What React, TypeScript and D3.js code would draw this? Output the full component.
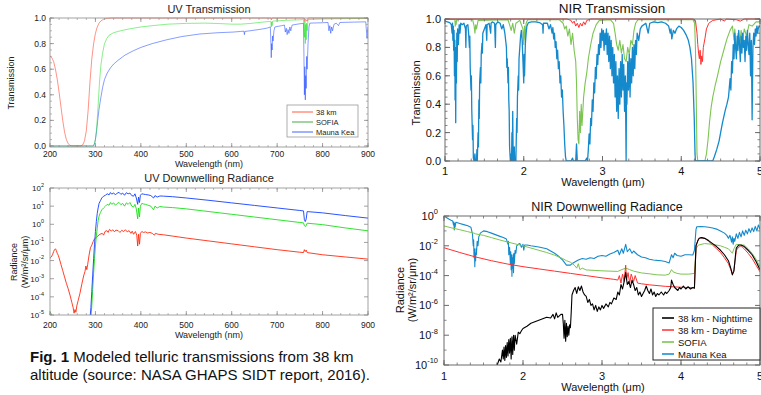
import React from 'react'
import * as d3 from 'd3'

type Pt = [number, number]

const FONT = 'Liberation Sans, Arial, Helvetica, sans-serif'

// ---------- UV transmission (wavelength nm, transmission) ----------
const uvTrans38km: Pt[] = [
  [200,0.70],[204,0.69],[208,0.66],[212,0.6],[216,0.52],[220,0.42],[224,0.31],[228,0.2],[232,0.11],[236,0.05],
  [240,0.018],[244,0.005],[248,0.001],[268,0.001],[272,0.008],[276,0.04],[280,0.12],[284,0.28],[288,0.5],[292,0.68],
  [296,0.8],[300,0.88],[304,0.93],[308,0.96],[312,0.977],[318,0.99],[326,0.997],[336,1.0],[686,1.0],[687,0.985],
  [689,1.0],[759,1.0],[761,0.97],[763,0.99],[766,0.975],[768,1.0],[900,1.0]
]
const uvTransSofia: Pt[] = [
  [200,0],[294,0],[297,0.01],[300,0.05],[303,0.15],[306,0.32],[309,0.5],[312,0.63],[316,0.73],[320,0.8],[325,0.84],
  [330,0.865],[340,0.885],[355,0.9],[375,0.915],[400,0.93],[430,0.942],[460,0.952],[500,0.958],[540,0.96],[570,0.957],
  [600,0.952],[620,0.952],[640,0.957],[660,0.965],[680,0.972],[686,0.974],[687,0.93],[688,0.97],[689,0.94],[690,0.975],
  [695,0.977],[720,0.982],[750,0.986],[758,0.987],[760,0.85],[761,0.97],[762,0.8],[763,0.95],[764,0.83],[765,0.96],
  [766,0.9],[768,0.988],[800,0.992],[850,0.995],[900,0.997]
]
const uvTransMaunaKea: Pt[] = [
  [200,0],[296,0],[299,0.03],[302,0.1],[305,0.2],[308,0.29],[312,0.38],[316,0.46],[320,0.52],[326,0.57],[333,0.61],
  [340,0.64],[350,0.67],[365,0.71],[384,0.745],[400,0.77],[425,0.8],[457,0.83],[490,0.855],[530,0.875],[570,0.885],
  [603,0.89],[620,0.895],[627,0.897],[628,0.87],[629,0.895],[640,0.9],[660,0.91],[677,0.92],[685,0.93],[686,0.83],
  [687,0.69],[688,0.8],[689,0.75],[690,0.86],[691,0.82],[693,0.9],[695,0.93],[710,0.94],[716,0.945],[718,0.89],
  [720,0.92],[722,0.87],[724,0.91],[726,0.88],[728,0.93],[730,0.9],[733,0.945],[750,0.955],[758,0.958],[759,0.7],
  [760,0.4],[761,0.62],[762,0.36],[763,0.55],[764,0.45],[765,0.7],[766,0.6],[768,0.8],[770,0.93],[772,0.96],
  [800,0.963],[812,0.965],[814,0.9],[816,0.94],[818,0.88],[820,0.93],[822,0.9],[825,0.95],[830,0.96],[835,0.94],
  [838,0.965],[870,0.968],[895,0.97],[897,0.88],[898,0.84],[899,0.9],[900,0.93]
]

// ---------- UV downwelling radiance (wavelength nm, log10 W/m2/sr/um) ----------
const uvRad38km: Pt[] = [
  [200,-1.87],[203,-1.8],[206,-1.65],[208,-1.5],[210,-1.4],[212,-1.35],[214,-1.45],[216,-1.6],[218,-1.7],[220,-1.85],
  [224,-2.2],[228,-2.55],[232,-2.9],[236,-3.25],[240,-3.55],[244,-3.9],[248,-4.3],[251,-4.6],[253,-4.9],[255,-4.7],
  [257,-4.85],[259,-4.5],[262,-4.2],[266,-3.8],[270,-3.3],[274,-2.85],[277,-2.6],[279,-2.3],[281,-2.5],[283,-2.2],
  [286,-1.7],[289,-1.3],[292,-1.15],[295,-0.95],[298,-0.8],[301,-0.75],[305,-0.65],[310,-0.55],[315,-0.5],[318,-0.6],
  [321,-0.4],[325,-0.35],[328,-0.45],[331,-0.28],[335,-0.38],[338,-0.3],[342,-0.42],[345,-0.32],[350,-0.35],[354,-0.45],
  [358,-0.33],[362,-0.4],[366,-0.3],[370,-0.42],[374,-0.35],[378,-0.5],[381,-0.38],[384,-0.55],[388,-0.4],[391,-0.6],
  [393,-1.2],[395,-0.55],[397,-1.1],[399,-0.5],[402,-0.4],[406,-0.45],[410,-0.42],[415,-0.48],[420,-0.45],[425,-0.5],
  [430,-0.6],[432,-0.5],[438,-0.55],[450,-0.58],[470,-0.65],[500,-0.76],[550,-0.92],[600,-1.08],[650,-1.24],[700,-1.4],
  [750,-1.54],[758,-1.56],[760,-1.4],[762,-1.5],[764,-1.42],[766,-1.56],[800,-1.68],[850,-1.8],[900,-1.92]
]
const uvRadSofia: Pt[] = [
  [200,-4.82],[203,-4.95],[206,-5.2],[290,-5.2],[292,-4.5],[294,-3.6],[296,-2.7],[298,-1.9],[300,-1.2],[302,-0.65],
  [304,-0.2],[306,0.2],[308,0.45],[311,0.65],[314,0.8],[318,0.9],[322,1.0],[326,1.1],[330,1.05],[333,1.2],[336,1.1],
  [340,1.18],[344,1.05],[348,1.15],[352,1.2],[356,1.08],[360,1.15],[364,1.0],[368,1.18],[372,1.1],[376,1.2],[380,1.0],
  [384,0.95],[387,1.1],[390,0.85],[393,0.3],[395,0.9],[397,0.4],[399,1.0],[402,1.15],[406,1.12],[410,1.1],[416,1.05],
  [422,1.0],[428,0.8],[431,1.0],[436,0.9],[442,0.98],[450,0.95],[470,0.92],[500,0.85],[550,0.7],[600,0.55],[650,0.4],
  [700,0.25],[750,0.1],[758,0.08],[760,-0.08],[763,-0.12],[766,0.06],[800,-0.02],[850,-0.2],[900,-0.36]
]
const uvRadMaunaKea: Pt[] = [
  [288,-5.2],[290,-4.6],[292,-3.7],[294,-2.8],[296,-1.9],[298,-1.1],[300,-0.4],[302,0.15],[304,0.6],[306,0.9],
  [308,1.15],[311,1.3],[314,1.45],[318,1.55],[322,1.6],[326,1.68],[330,1.62],[333,1.75],[336,1.66],[340,1.73],
  [344,1.62],[348,1.72],[352,1.76],[356,1.65],[360,1.72],[364,1.6],[368,1.74],[372,1.68],[376,1.72],[380,1.58],
  [384,1.55],[387,1.68],[390,1.45],[393,1.1],[395,1.5],[397,1.2],[399,1.6],[402,1.68],[406,1.66],[410,1.64],
  [416,1.62],[422,1.58],[428,1.45],[431,1.58],[436,1.5],[442,1.56],[450,1.55],[470,1.52],[500,1.45],[550,1.32],
  [600,1.18],[650,1.04],[700,0.9],[750,0.76],[758,0.74],[760,0.25],[762,0.15],[764,0.3],[766,0.7],[800,0.63],
  [850,0.48],[900,0.34]
]

// ---------- NIR transmission (wavelength um, transmission) ----------
const nirTrans38km: Pt[] = [
  [1.0,1.0],[2.55,1.0],[2.6,0.99],[2.62,0.97],[2.64,0.985],[2.66,0.95],[2.68,0.97],[2.7,0.94],[2.72,0.97],[2.74,0.95],
  [2.76,0.98],[2.78,0.96],[2.8,0.99],[2.85,1.0],[4.15,1.0],[4.18,0.99],[4.2,0.9],[4.21,0.82],[4.22,0.76],[4.23,0.72],
  [4.24,0.78],[4.25,0.68],[4.26,0.74],[4.27,0.7],[4.28,0.8],[4.3,0.86],[4.32,0.93],[4.35,0.97],[4.4,0.99],[4.5,1.0],
  [4.55,0.985],[4.57,1.0],[4.7,0.995],[4.75,0.985],[4.8,1.0],[5.0,1.0]
]
const nirTransSofia: Pt[] = [
  [1.0,0.998],[1.125,0.997],[1.13,0.95],[1.135,0.985],[1.14,0.96],[1.15,0.997],[1.35,0.997],[1.37,0.95],[1.38,0.9],
  [1.39,0.96],[1.4,0.93],[1.42,0.99],[1.8,0.995],[1.82,0.96],[1.84,0.92],[1.86,0.97],[1.88,0.9],[1.9,0.97],[1.95,0.99],
  [1.99,0.93],[2.0,0.82],[2.01,0.95],[2.02,0.85],[2.03,0.97],[2.05,0.995],[2.45,0.995],[2.5,0.97],[2.52,0.93],[2.54,0.95],
  [2.56,0.88],[2.58,0.93],[2.6,0.82],[2.62,0.9],[2.64,0.78],[2.66,0.7],[2.67,0.55],[2.68,0.3],[2.69,0.15],[2.7,0.12],
  [2.71,0.35],[2.72,0.2],[2.73,0.4],[2.74,0.25],[2.76,0.45],[2.78,0.55],[2.8,0.62],[2.82,0.72],[2.85,0.82],[2.88,0.9],
  [2.92,0.96],[2.96,0.99],[3.1,0.995],[3.14,0.97],[3.16,0.9],[3.18,0.82],[3.2,0.78],[3.22,0.85],[3.24,0.76],[3.26,0.82],
  [3.28,0.72],[3.3,0.7],[3.32,0.8],[3.34,0.75],[3.36,0.85],[3.38,0.82],[3.4,0.92],[3.42,0.97],[3.45,0.995],[4.15,0.995],
  [4.17,0.97],[4.18,0.8],[4.19,0.45],[4.2,0.05],[4.21,0.0],[4.3,0.0],[4.32,0.05],[4.34,0.15],[4.36,0.28],[4.38,0.38],
  [4.4,0.45],[4.43,0.53],[4.46,0.6],[4.5,0.7],[4.54,0.78],[4.58,0.86],[4.62,0.92],[4.65,0.95],[4.67,0.85],[4.68,0.93],
  [4.7,0.76],[4.72,0.9],[4.74,0.8],[4.76,0.92],[4.78,0.85],[4.8,0.93],[4.83,0.88],[4.86,0.96],[4.9,0.95],[4.95,0.98],
  [5.0,0.98]
]
const nirTransMaunaKea: Pt[] = [
  [1.0,0.985],[1.03,0.98],[1.06,0.975],[1.08,0.96],[1.09,0.9],[1.095,0.97],[1.1,0.85],[1.105,0.95],[1.11,0.78],
  [1.115,0.92],[1.12,0.6],[1.125,0.85],[1.128,0.43],[1.132,0.8],[1.136,0.27],[1.14,0.75],[1.145,0.55],[1.15,0.9],
  [1.155,0.7],[1.16,0.93],[1.17,0.82],[1.18,0.96],[1.19,0.9],[1.2,0.97],[1.22,0.96],[1.24,0.97],[1.26,0.93],[1.265,0.8],
  [1.27,0.95],[1.29,0.96],[1.3,0.9],[1.31,0.8],[1.315,0.88],[1.32,0.66],[1.33,0.5],[1.335,0.6],[1.34,0.36],[1.35,0.15],
  [1.355,0.25],[1.36,0.02],[1.37,0.0],[1.38,0.05],[1.385,0.0],[1.4,0.0],[1.405,0.08],[1.41,0.0],[1.42,0.2],[1.425,0.1],
  [1.43,0.43],[1.435,0.3],[1.44,0.55],[1.45,0.66],[1.455,0.55],[1.46,0.75],[1.47,0.83],[1.475,0.76],[1.48,0.9],
  [1.5,0.93],[1.52,0.96],[1.53,0.85],[1.535,0.96],[1.56,0.97],[1.58,0.9],[1.585,0.97],[1.6,0.98],[1.63,0.97],[1.64,0.8],
  [1.645,0.96],[1.67,0.98],[1.7,0.97],[1.72,0.93],[1.74,0.96],[1.76,0.9],[1.77,0.85],[1.78,0.8],[1.785,0.66],[1.79,0.72],
  [1.8,0.55],[1.805,0.66],[1.81,0.43],[1.815,0.35],[1.82,0.1],[1.83,0.0],[1.84,0.05],[1.845,0.0],[1.85,0.2],[1.855,0.0],
  [1.86,0.35],[1.865,0.05],[1.87,0.0],[1.88,0.1],[1.885,0.0],[1.89,0.02],[1.9,0.0],[1.905,0.15],[1.91,0.3],[1.915,0.2],
  [1.92,0.45],[1.93,0.6],[1.935,0.5],[1.94,0.72],[1.95,0.8],[1.96,0.88],[1.97,0.92],[1.98,0.85],[1.99,0.7],[2.0,0.55],
  [2.005,0.75],[2.01,0.6],[2.02,0.82],[2.03,0.9],[2.04,0.95],[2.06,0.975],[2.1,0.98],[2.15,0.98],[2.2,0.975],[2.24,0.96],
  [2.245,0.9],[2.25,0.97],[2.3,0.97],[2.32,0.93],[2.34,0.96],[2.36,0.9],[2.37,0.94],[2.38,0.86],[2.39,0.9],[2.4,0.8],
  [2.41,0.84],[2.42,0.72],[2.43,0.78],[2.44,0.65],[2.45,0.7],[2.46,0.55],[2.47,0.6],[2.48,0.45],[2.49,0.5],[2.5,0.35],
  [2.51,0.25],[2.52,0.12],[2.53,0.03],[2.54,0.0],[2.6,0.0],[2.62,0.02],[2.63,0.0],[2.66,0.0],[2.67,0.12],[2.68,0.0],
  [2.78,0.0],[2.8,0.02],[2.81,0.0],[2.82,0.08],[2.83,0.19],[2.84,0.12],[2.85,0.3],[2.86,0.25],[2.87,0.43],[2.88,0.35],
  [2.89,0.55],[2.9,0.48],[2.91,0.66],[2.92,0.58],[2.93,0.75],[2.94,0.68],[2.95,0.82],[2.96,0.75],[2.97,0.9],[2.98,0.8],
  [2.99,0.93],[3.0,0.85],[3.01,0.92],[3.02,0.78],[3.03,0.9],[3.04,0.82],[3.05,0.93],[3.06,0.75],[3.07,0.9],[3.08,0.7],
  [3.09,0.88],[3.1,0.65],[3.11,0.85],[3.12,0.6],[3.13,0.8],[3.14,0.55],[3.15,0.75],[3.16,0.45],[3.17,0.7],[3.18,0.35],
  [3.19,0.6],[3.2,0.3],[3.21,0.65],[3.22,0.4],[3.23,0.7],[3.24,0.45],[3.25,0.75],[3.26,0.5],[3.27,0.68],[3.28,0.35],
  [3.29,0.6],[3.3,0.0],[3.305,0.55],[3.31,0.4],[3.32,0.7],[3.33,0.5],[3.34,0.75],[3.35,0.45],[3.36,0.72],[3.37,0.55],
  [3.38,0.8],[3.39,0.6],[3.4,0.82],[3.41,0.65],[3.42,0.85],[3.43,0.75],[3.44,0.9],[3.46,0.85],[3.48,0.93],[3.5,0.95],
  [3.55,0.97],[3.58,0.9],[3.6,0.97],[3.65,0.98],[3.7,0.975],[3.75,0.98],[3.8,0.97],[3.84,0.95],[3.86,0.9],[3.87,0.93],
  [3.88,0.86],[3.9,0.92],[3.92,0.9],[3.94,0.93],[3.97,0.95],[4.0,0.94],[4.03,0.92],[4.06,0.89],[4.09,0.85],[4.11,0.8],
  [4.13,0.72],[4.15,0.55],[4.165,0.3],[4.175,0.05],[4.18,0.0],[4.4,0.0],[4.42,0.03],[4.45,0.08],[4.48,0.14],[4.5,0.2],
  [4.52,0.26],[4.54,0.31],[4.56,0.36],[4.58,0.4],[4.6,0.45],[4.62,0.58],[4.63,0.5],[4.64,0.7],[4.65,0.62],[4.66,0.82],
  [4.67,0.72],[4.68,0.9],[4.69,0.8],[4.7,0.72],[4.71,0.88],[4.72,0.78],[4.73,0.92],[4.74,0.82],[4.75,0.7],[4.76,0.88],
  [4.77,0.76],[4.78,0.9],[4.79,0.8],[4.8,0.85],[4.81,0.7],[4.82,0.88],[4.83,0.78],[4.84,0.92],[4.85,0.82],[4.86,0.75],
  [4.87,0.9],[4.88,0.6],[4.89,0.85],[4.9,0.29],[4.91,0.8],[4.92,0.9],[4.93,0.82],[4.94,0.93],[4.95,0.88],[4.96,0.95],
  [4.97,0.9],[4.98,0.94],[5.0,0.95]
]

// ---------- NIR downwelling radiance (wavelength um, log10 W/m2/sr/um) ----------
const nirRadNight: Pt[] = [
  [1.66,-10.2],[1.7,-9.6],[1.72,-9.8],[1.74,-9.0],[1.75,-9.6],[1.76,-8.8],[1.77,-9.7],[1.78,-8.7],[1.79,-9.5],[1.8,-8.5],
  [1.81,-9.4],[1.82,-8.3],[1.83,-9.2],[1.84,-8.2],[1.85,-9.6],[1.86,-8.1],[1.87,-9.3],[1.88,-8.0],[1.89,-9.0],[1.9,-8.0],
  [1.92,-8.6],[1.94,-7.8],[1.96,-7.9],[1.98,-7.7],[2.0,-7.55],[2.05,-7.4],[2.1,-7.2],[2.15,-7.1],[2.2,-7.0],[2.25,-6.9],
  [2.3,-6.8],[2.35,-6.85],[2.38,-6.6],[2.4,-6.9],[2.42,-6.5],[2.44,-6.8],[2.46,-6.7],[2.48,-6.6],[2.5,-6.6],[2.51,-7.2],
  [2.52,-8.2],[2.53,-7.0],[2.54,-8.4],[2.55,-7.2],[2.56,-8.1],[2.57,-7.4],[2.58,-8.0],[2.59,-7.3],[2.6,-7.5],[2.61,-6.5],
  [2.62,-5.3],[2.64,-5.0],[2.66,-4.8],[2.68,-5.2],[2.7,-4.75],[2.72,-5.0],[2.74,-4.7],[2.76,-5.1],[2.78,-5.3],[2.8,-5.4],
  [2.82,-5.8],[2.84,-5.6],[2.86,-6.0],[2.88,-5.9],[2.9,-6.3],[2.92,-6.0],[2.94,-6.4],[2.96,-6.1],[2.98,-6.3],[3.0,-6.0],
  [3.02,-6.2],[3.05,-5.9],[3.08,-6.1],[3.1,-5.8],[3.12,-5.9],[3.15,-5.5],[3.18,-5.6],[3.2,-5.1],[3.22,-5.3],[3.24,-4.6],
  [3.26,-4.9],[3.28,-4.4],[3.3,-3.8],[3.32,-4.6],[3.34,-4.4],[3.36,-4.8],[3.38,-4.3],[3.4,-4.6],[3.42,-5.0],[3.44,-4.8],
  [3.46,-5.3],[3.48,-5.1],[3.5,-5.4],[3.52,-5.2],[3.54,-5.0],[3.56,-4.7],[3.58,-5.0],[3.6,-5.2],[3.62,-4.9],[3.64,-5.3],
  [3.66,-5.1],[3.68,-5.4],[3.7,-5.2],[3.72,-5.3],[3.75,-5.1],[3.78,-5.3],[3.8,-5.1],[3.82,-5.2],[3.85,-5.0],[3.87,-4.8],
  [3.88,-4.3],[3.9,-4.6],[3.92,-4.8],[3.94,-4.9],[3.96,-5.0],[3.98,-4.8],[4.0,-4.9],[4.03,-4.7],[4.06,-4.9],[4.09,-4.75],
  [4.12,-4.9],[4.15,-4.8],[4.17,-4.85],[4.19,-2.0],[4.21,-1.7],[4.23,-1.5],[4.26,-1.45],[4.3,-1.5],[4.35,-1.65],
  [4.4,-1.85],[4.45,-2.05],[4.5,-2.3],[4.55,-2.6],[4.6,-3.0],[4.63,-3.5],[4.65,-3.95],[4.67,-3.7],[4.69,-2.6],
  [4.7,-2.15],[4.73,-1.95],[4.76,-1.95],[4.8,-2.05],[4.85,-2.3],[4.9,-2.6],[4.95,-3.05],[5.0,-3.6]
]
const nirRadDay: Pt[] = [
  [1.0,-2.13],[1.2,-2.45],[1.4,-2.75],[1.6,-3.0],[1.8,-3.22],[2.0,-3.4],[2.2,-3.55],[2.4,-3.7],[2.6,-3.85],[2.8,-4.0],
  [3.0,-4.15],[3.15,-4.25],[3.2,-4.3],[3.22,-4.0],[3.24,-4.5],[3.26,-3.9],[3.28,-4.4],[3.3,-3.3],[3.31,-4.3],[3.33,-3.8],
  [3.35,-4.5],[3.37,-3.9],[3.4,-4.4],[3.42,-4.0],[3.45,-4.5],[3.5,-4.55],[3.6,-4.62],[3.8,-4.72],[4.0,-4.78],[4.17,-4.82],
  [4.19,-2.0],[4.22,-1.55],[4.25,-1.45],[4.3,-1.5],[4.35,-1.7],[4.4,-1.95],[4.45,-2.2],[4.5,-2.45],[4.55,-2.8],[4.6,-3.2],
  [4.63,-3.6],[4.65,-3.9],[4.67,-3.6],[4.69,-2.8],[4.7,-2.3],[4.73,-2.1],[4.76,-2.0],[4.8,-2.2],[4.85,-2.5],[4.9,-2.85],
  [4.95,-3.3],[5.0,-3.75]
]
const nirRadSofia: Pt[] = [
  [1.0,-0.67],[1.1,-0.8],[1.2,-0.92],[1.3,-1.05],[1.38,-1.15],[1.4,-1.2],[1.5,-1.3],[1.6,-1.45],[1.7,-1.6],[1.8,-1.74],
  [1.9,-1.87],[2.0,-2.0],[2.1,-2.15],[2.2,-2.3],[2.3,-2.45],[2.4,-2.63],[2.5,-2.85],[2.55,-3.0],[2.6,-3.1],[2.65,-3.3],
  [2.68,-3.5],[2.7,-3.2],[2.72,-3.6],[2.75,-3.5],[2.8,-3.62],[2.9,-3.65],[3.0,-3.68],[3.1,-3.7],[3.2,-3.72],[3.25,-3.6],
  [3.3,-3.5],[3.35,-3.6],[3.4,-3.7],[3.5,-3.82],[3.6,-3.88],[3.7,-3.95],[3.8,-3.97],[3.85,-3.9],[3.88,-3.6],[3.9,-3.75],
  [3.95,-3.85],[4.0,-3.9],[4.1,-3.9],[4.17,-3.85],[4.19,-2.2],[4.22,-1.95],[4.3,-1.85],[4.4,-1.9],[4.5,-2.0],[4.55,-2.1],
  [4.6,-2.2],[4.65,-2.5],[4.67,-2.2],[4.7,-1.9],[4.75,-1.95],[4.8,-1.95],[4.85,-2.2],[4.9,-2.5],[4.95,-2.9],[5.0,-3.4]
]
const nirRadMaunaKea: Pt[] = [
  [1.0,0.0],[1.03,-0.1],[1.06,-0.2],[1.09,-0.28],[1.11,-0.33],[1.12,-0.6],[1.125,-0.4],[1.13,-0.93],[1.135,-0.5],
  [1.14,-0.75],[1.15,-0.42],[1.2,-0.5],[1.25,-0.58],[1.3,-0.66],[1.34,-0.75],[1.36,-1.2],[1.37,-2.0],[1.375,-1.6],
  [1.38,-2.8],[1.385,-2.2],[1.39,-3.4],[1.395,-2.5],[1.4,-3.0],[1.405,-2.2],[1.41,-2.6],[1.42,-1.7],[1.43,-2.0],
  [1.44,-1.4],[1.46,-1.15],[1.5,-1.0],[1.55,-1.05],[1.6,-1.15],[1.65,-1.25],[1.7,-1.35],[1.75,-1.45],[1.79,-1.55],
  [1.81,-1.9],[1.815,-1.7],[1.82,-2.6],[1.83,-2.1],[1.84,-3.2],[1.845,-2.4],[1.85,-3.6],[1.855,-2.6],[1.86,-4.05],
  [1.865,-2.8],[1.87,-3.5],[1.875,-2.6],[1.88,-3.8],[1.885,-2.5],[1.89,-3.2],[1.9,-2.3],[1.91,-2.5],[1.92,-2.0],
  [1.94,-1.9],[1.96,-1.85],[1.98,-2.1],[2.0,-1.9],[2.01,-2.3],[2.02,-1.95],[2.05,-1.95],[2.1,-2.0],[2.2,-2.08],
  [2.3,-2.2],[2.4,-2.5],[2.45,-2.7],[2.5,-2.95],[2.55,-3.3],[2.6,-3.3],[2.62,-3.2],[2.65,-3.1],[2.7,-2.95],[2.75,-2.85],
  [2.8,-2.9],[2.85,-2.8],[2.9,-2.85],[2.95,-2.7],[3.0,-2.65],[3.05,-2.7],[3.1,-2.55],[3.15,-2.45],[3.2,-2.3],
  [3.22,-2.6],[3.25,-2.2],[3.27,-2.5],[3.3,-1.9],[3.32,-2.4],[3.35,-2.2],[3.38,-2.5],[3.4,-2.35],[3.45,-2.6],
  [3.5,-2.75],[3.55,-2.8],[3.6,-2.9],[3.65,-2.95],[3.7,-2.98],[3.75,-3.0],[3.8,-3.05],[3.85,-3.15],[3.88,-2.6],
  [3.9,-2.8],[3.92,-2.5],[3.95,-2.65],[4.0,-2.7],[4.05,-2.6],[4.1,-2.6],[4.15,-2.62],[4.17,-2.3],[4.19,-0.9],
  [4.2,-0.72],[4.25,-0.7],[4.3,-0.72],[4.35,-0.75],[4.4,-0.8],[4.45,-0.88],[4.5,-1.0],[4.55,-1.15],[4.58,-1.3],
  [4.6,-1.5],[4.62,-1.3],[4.64,-1.75],[4.65,-1.4],[4.66,-1.9],[4.67,-1.5],[4.68,-1.7],[4.7,-1.2],[4.72,-1.5],
  [4.74,-1.1],[4.76,-1.4],[4.78,-1.0],[4.8,-1.3],[4.82,-0.95],[4.84,-1.2],[4.86,-0.85],[4.88,-1.1],[4.9,-0.8],
  [4.92,-1.05],[4.94,-0.7],[4.96,-1.0],[4.98,-0.6],[5.0,-0.9]
]

// tick values
const uvWaveTicks = [200, 300, 400, 500, 600, 700, 800, 900]
const transTicks = [0, 0.2, 0.4, 0.6, 0.8, 1.0]
const uvRadExps = [2, 1, 0, -1, -2, -3, -4, -5]
const nirWaveTicks = [1, 2, 3, 4, 5]
const nirRadExps = [0, -2, -4, -6, -8, -10]

const uvLegend = [
  { label: '38 km', color: '#ff4a2a' },
  { label: 'SOFIA', color: '#2fa02f' },
  { label: 'Mauna Kea', color: '#2a52ff' },
]
const nirLegend = [
  { label: '38 km - Nighttime', color: '#000000' },
  { label: '38 km - Daytime', color: '#ff3b3b' },
  { label: 'SOFIA', color: '#7cc552' },
  { label: 'Mauna Kea', color: '#1b8fd0' },
]

const UV_RED = '#ff2a10', UV_GREEN = '#18e018', UV_BLUE = '#1440ff'
const NIR_RED = '#ff3030', NIR_GREEN = '#7cc552', NIR_BLUE = '#1489cc'

function range(a: number, b: number, step: number) {
  const out: number[] = []
  for (let v = a; v <= b + 1e-9; v += step) out.push(v)
  return out
}

function tickPath(xs: number[], ys: number[], L: number, box: { l: number, r: number, t: number, b: number }) {
  let d = ''
  xs.forEach(x => { d += `M${x},${box.b}v${-L}M${x},${box.t}v${L}` })
  ys.forEach(y => { d += `M${box.l},${y}h${L}M${box.r},${y}h${-L}` })
  return d
}

function Series({ data, x, y, color, w = 0.8, log = false, clip, opacity = 1 }: any) {
  const line = d3.line<Pt>()
    .x(d => x(d[0]))
    .y(d => y(log ? Math.pow(10, d[1]) : d[1]))
  return <path d={line(data) || ''} fill="none" stroke={color} strokeWidth={w} strokeOpacity={opacity}
    strokeLinejoin="round" clipPath={`url(#${clip})`} />
}

function App() {
  // panel boxes
  const A = { l: 50, r: 368, t: 18, b: 147 }
  const B = { l: 50, r: 368, t: 188, b: 315 }
  const C = { l: 445, r: 760, t: 19, b: 161 }
  const D = { l: 444, r: 760, t: 216, b: 365 }

  const xA = d3.scaleLinear().domain([200, 900]).range([A.l, A.r])
  const yA = d3.scaleLinear().domain([-0.008, 1]).range([A.b, A.t])
  const xB = d3.scaleLinear().domain([200, 900]).range([B.l, B.r])
  const yB = d3.scaleLog().domain([1e-5, 1e2]).range([B.b, B.t])
  const xC = d3.scaleLinear().domain([1, 5]).range([C.l, C.r])
  const yC = d3.scaleLinear().domain([0, 1]).range([C.b, C.t])
  const xD = d3.scaleLinear().domain([1, 5]).range([D.l, D.r])
  const yD = d3.scaleLog().domain([1e-10, 1]).range([D.b, D.t])

  const uvGray = '#8a8a8a', nirGray = '#6a6a6a'

  const sup = (exp: number, size: number) => (
    <>10<tspan fontSize={size} dy={-size * 0.75}>{exp}</tspan></>
  )

  return (
    <svg width={761} height={395} style={{ position: 'absolute', left: 0, top: 0, background: '#fff' }} fontFamily={FONT}>
      <defs>
        <clipPath id="cA"><rect x={A.l} y={A.t - 1} width={A.r - A.l} height={A.b - A.t + 1} /></clipPath>
        <clipPath id="cB"><rect x={B.l} y={B.t} width={B.r - B.l} height={B.b - B.t} /></clipPath>
        <clipPath id="cC"><rect x={C.l} y={C.t - 1} width={C.r - C.l} height={C.b - C.t + 1} /></clipPath>
        <clipPath id="cD"><rect x={D.l} y={D.t} width={D.r - D.l} height={D.b - D.t} /></clipPath>
      </defs>

      {/* UV Transmission */}
      <text x={209} y={13} fontSize={11} textAnchor="middle" fill="#222">UV Transmission</text>
      <Series data={uvTransMaunaKea} x={xA} y={yA} color={UV_BLUE} w={0.6} opacity={0.85} clip="cA" />
      <Series data={uvTransSofia} x={xA} y={yA} color={UV_GREEN} w={0.6} opacity={0.85} clip="cA" />
      <Series data={uvTrans38km} x={xA} y={yA} color={UV_RED} w={0.6} opacity={0.85} clip="cA" />
      <rect x={A.l} y={A.t} width={A.r - A.l} height={A.b - A.t} fill="none" stroke={uvGray} strokeWidth={0.8} />
      <path d={tickPath(uvWaveTicks.map(xA), transTicks.map(yA), 4, A)} stroke={uvGray} strokeWidth={0.8} fill="none" />
      <path d={tickPath(range(200, 900, 20).map(xA), range(0, 1, 0.05).map(yA), 2, A)} stroke={uvGray} strokeWidth={0.6} fill="none" />
      {transTicks.map(t => (
        <text key={t} x={46} y={yA(t) + 3} fontSize={8.5} textAnchor="end" fill="#222">{t.toFixed(1)}</text>
      ))}
      {uvWaveTicks.map(t => (
        <text key={t} x={xA(t)} y={157} fontSize={8.5} textAnchor="middle" fill="#222">{t}</text>
      ))}
      <text x={209} y={167} fontSize={9} textAnchor="middle" fill="#222">Wavelength (nm)</text>
      <text transform="translate(14,83) rotate(-90)" fontSize={9} textAnchor="middle" fill="#222">Transmission</text>
      <rect x={287} y={105} width={71} height={32} fill="#fff" stroke="#999" strokeWidth={0.8} />
      {uvLegend.map((d, i) => (
        <g key={d.label}>
          <line x1={292} x2={313} y1={112 + i * 10} y2={112 + i * 10} stroke={d.color} strokeWidth={0.9} />
          <text x={316} y={114.5 + i * 10} fontSize={7.5} fill="#222">{d.label}</text>
        </g>
      ))}

      {/* UV Downwelling Radiance */}
      <text x={209} y={182} fontSize={11} textAnchor="middle" fill="#222">UV Downwelling Radiance</text>
      <Series data={uvRad38km} x={xB} y={yB} color={UV_RED} w={0.9} log clip="cB" />
      <Series data={uvRadSofia} x={xB} y={yB} color={UV_GREEN} w={0.9} log clip="cB" />
      <Series data={uvRadMaunaKea} x={xB} y={yB} color={UV_BLUE} w={0.9} log clip="cB" />
      <rect x={B.l} y={B.t} width={B.r - B.l} height={B.b - B.t} fill="none" stroke={uvGray} strokeWidth={0.8} />
      <path d={tickPath(uvWaveTicks.map(xB), uvRadExps.map(e => yB(Math.pow(10, e))), 4, B)} stroke={uvGray} strokeWidth={0.8} fill="none" />
      <path d={tickPath(range(200, 900, 20).map(xB), [], 2, B)} stroke={uvGray} strokeWidth={0.6} fill="none" />
      {uvRadExps.map(e => (
        <text key={e} x={44} y={yB(Math.pow(10, e)) + 3} fontSize={8} textAnchor="end" fill="#222">{sup(e, 5.5)}</text>
      ))}
      {uvWaveTicks.map(t => (
        <text key={t} x={xB(t)} y={328} fontSize={8.5} textAnchor="middle" fill="#222">{t}</text>
      ))}
      <text x={209} y={338} fontSize={9} textAnchor="middle" fill="#222">Wavelength (nm)</text>
      <text transform="translate(17,262) rotate(-90)" fontSize={9} textAnchor="middle" fill="#222">Radiance</text>
      <text transform="translate(28,262) rotate(-90)" fontSize={9} textAnchor="middle" fill="#222">(W/m²/sr/μm)</text>

      {/* caption */}
      <text x={30} y={362} fontSize={15} fill="#111"><tspan fontWeight="bold">Fig. 1</tspan> Modeled telluric transmissions from 38 km</text>
      <text x={30} y={380} fontSize={15} fill="#111">altitude (source: NASA GHAPS SIDT report, 2016).</text>

      {/* NIR Transmission */}
      <text x={612} y={13} fontSize={13.5} textAnchor="middle" fill="#111">NIR Transmission</text>
      <Series data={nirTransSofia} x={xC} y={yC} color={NIR_GREEN} w={1.1} clip="cC" />
      <Series data={nirTransMaunaKea} x={xC} y={yC} color={NIR_BLUE} w={1.3} clip="cC" />
      <Series data={nirTrans38km} x={xC} y={yC} color={NIR_RED} w={1} clip="cC" />
      <rect x={C.l} y={C.t} width={C.r - C.l} height={C.b - C.t} fill="none" stroke={nirGray} strokeWidth={1} />
      <path d={tickPath(nirWaveTicks.map(xC), transTicks.map(yC), 5, C)} stroke={nirGray} strokeWidth={1} fill="none" />
      <path d={tickPath(range(1, 5, 1 / 6).map(xC), range(0, 1, 0.05).map(yC), 2.5, C)} stroke={nirGray} strokeWidth={0.8} fill="none" />
      {transTicks.map(t => (
        <text key={t} x={441} y={yC(t) + 4} fontSize={11} textAnchor="end" fill="#111">{t.toFixed(1)}</text>
      ))}
      {nirWaveTicks.map(t => (
        <text key={t} x={xC(t)} y={175} fontSize={11} textAnchor="middle" fill="#111">{t}</text>
      ))}
      <text x={603} y={186} fontSize={11} textAnchor="middle" fill="#111">Wavelength (μm)</text>
      <text transform="translate(420,93) rotate(-90)" fontSize={11} textAnchor="middle" fill="#111">Transmission</text>

      {/* NIR Downwelling Radiance */}
      <text x={607} y={211} fontSize={12.5} textAnchor="middle" fill="#111">NIR Downwelling Radiance</text>
      <Series data={nirRadMaunaKea} x={xD} y={yD} color={NIR_BLUE} w={1.1} log clip="cD" />
      <Series data={nirRadSofia} x={xD} y={yD} color={NIR_GREEN} w={1} log clip="cD" />
      <Series data={nirRadDay} x={xD} y={yD} color={NIR_RED} w={1} log clip="cD" />
      <Series data={nirRadNight} x={xD} y={yD} color="#000" w={1.1} log clip="cD" />
      <rect x={D.l} y={D.t} width={D.r - D.l} height={D.b - D.t} fill="none" stroke={nirGray} strokeWidth={1} />
      <path d={tickPath(nirWaveTicks.map(xD), nirRadExps.map(e => yD(Math.pow(10, e))), 5, D)} stroke={nirGray} strokeWidth={1} fill="none" />
      <path d={tickPath(range(1, 5, 1 / 6).map(xD), range(-9, -1, 2).map(e => yD(Math.pow(10, e))), 2.5, D)} stroke={nirGray} strokeWidth={0.8} fill="none" />
      {nirRadExps.map(e => (
        <text key={e} x={438} y={yD(Math.pow(10, e)) + 4} fontSize={11} textAnchor="end" fill="#111">{sup(e, 7.5)}</text>
      ))}
      {nirWaveTicks.map(t => (
        <text key={t} x={xD(t)} y={380} fontSize={11} textAnchor="middle" fill="#111">{t}</text>
      ))}
      <text x={603} y={391} fontSize={11} textAnchor="middle" fill="#111">Wavelength (μm)</text>
      <text transform="translate(404,290) rotate(-90)" fontSize={11} textAnchor="middle" fill="#111">Radiance</text>
      <text transform="translate(416,290) rotate(-90)" fontSize={11} textAnchor="middle" fill="#111">(W/m²/sr/μm)</text>
      <rect x={653} y={308} width={107} height={52} fill="#fff" stroke="#222" strokeWidth={1} />
      {nirLegend.map((d, i) => (
        <g key={d.label}>
          <line x1={662} x2={674} y1={318 + i * 12} y2={318 + i * 12} stroke={d.color} strokeWidth={1.6} />
          <text x={678} y={321.5 + i * 12} fontSize={9.5} fill="#111">{d.label}</text>
        </g>
      ))}
    </svg>
  )
}

export default App
